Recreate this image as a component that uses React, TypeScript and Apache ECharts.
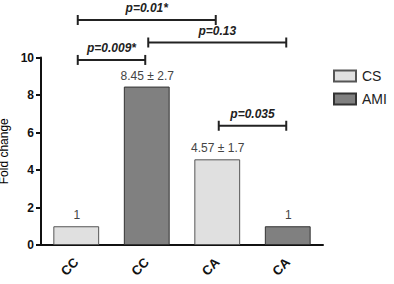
import React, { useEffect, useRef } from "react";
import * as echarts from "echarts";

// Groups along the x axis
const categories = ["CC", "CC", "CA", "CA"];
// Fold change per group (null where the series has no bar)
const csValues: (number | null)[] = [1, null, 4.57, null];
const amiValues: (number | null)[] = [null, 8.45, null, 1];
// Standard deviations shown in the bar labels
const sdValues: (number | null)[] = [null, 2.7, 1.7, null];
// Y axis ticks
const yTicks = [0, 2, 4, 6, 8, 10];

// Significance brackets: from group, to group, height (fold change units), text
const bracketFrom = [0, 0, 1, 2];
const bracketTo = [2, 1, 3, 3];
const bracketLevel = [12.0, 9.87, 10.8, 6.36];
const bracketText = ["p=0.01*", "p=0.009*", "p=0.13", "p=0.035"];

const FONT = "'Liberation Sans', Arial, Helvetica, sans-serif";

function labelFor(i: number, v: number) {
  const sd = sdValues[i];
  const txt = sd == null ? String(v) : `${v} ± ${sd}`;
  return `{v|${txt}}`;
}

function barLabel() {
  return {
    show: true,
    position: "top" as const,
    distance: 5,
    offset: [0.5, 0],
    color: "#444",
    fontSize: 12,
    fontFamily: FONT,
    formatter: (p: any) => labelFor(p.dataIndex, p.value),
    rich: { v: { color: "#444", fontSize: 12, fontFamily: FONT } },
  };
}

export default function App() {
  const ref = useRef<HTMLDivElement>(null);

  useEffect(() => {
    document.body.style.margin = "0";
    if (!ref.current) return;
    const chart = echarts.init(ref.current, undefined, { renderer: "svg" });

    const bracketData = bracketFrom.map((f, i) => [f, bracketTo[i], bracketLevel[i], i]);

    chart.setOption({
      animation: false,
      textStyle: { fontFamily: FONT },
      grid: {
        left: 41,
        right: 71,
        top: 57.5,
        bottom: 39,
        containLabel: false,
        outerBoundsMode: "none",
      },
      legend: {
        left: 328,
        top: 64,
        orient: "vertical",
        itemWidth: 22,
        itemHeight: 11,
        itemGap: 9,
        icon: "rect",
        textStyle: { fontSize: 14, color: "#222", fontFamily: FONT, padding: [0, 0, 0, 1] },
        data: ["CS", "AMI"],
      },
      xAxis: {
        type: "category",
        data: categories,
        axisLine: { lineStyle: { color: "#111", width: 2 } },
        axisTick: { alignWithLabel: true, length: 5, lineStyle: { color: "#111", width: 2 } },
        axisLabel: {
          rotate: 45,
          fontSize: 13,
          fontWeight: "bold",
          color: "#111",
          fontFamily: FONT,
          margin: 15,
        },
      },
      yAxis: {
        type: "value",
        min: yTicks[0],
        max: yTicks[yTicks.length - 1],
        interval: 2,
        name: "Fold change",
        nameLocation: "middle",
        nameGap: 26,
        nameTextStyle: { fontSize: 12, color: "#000", fontFamily: FONT },
        splitLine: { show: false },
        axisLine: { show: true, lineStyle: { color: "#111", width: 2 } },
        axisTick: { show: true, length: 5, lineStyle: { color: "#111", width: 2 } },
        axisLabel: { fontSize: 12, fontWeight: "bold", color: "#111", fontFamily: FONT, margin: 7 },
      },
      series: [
        {
          name: "CS",
          type: "bar",
          stack: "all",
          barWidth: "65%",
          data: csValues,
          itemStyle: { color: "#e0e0e0", borderColor: "#555", borderWidth: 1 },
          label: barLabel(),
        },
        {
          name: "AMI",
          type: "bar",
          stack: "all",
          barWidth: "65%",
          data: amiValues,
          itemStyle: { color: "#808080", borderColor: "#333", borderWidth: 1 },
          label: barLabel(),
        },
        {
          type: "custom",
          clip: false,
          silent: true,
          z: 10,
          encode: { x: 0, y: 2 },
          data: bracketData,
          renderItem: (_params: any, api: any) => {
            const a = api.coord([api.value(0), api.value(2)]);
            const b = api.coord([api.value(1), api.value(2)]);
            const idx = api.value(3);
            const x1 = a[0] + 1.5;
            const x2 = b[0] - 1.5;
            const y = a[1];
            const stroke = { stroke: "#222", lineWidth: 2 };
            return {
              type: "group",
              children: [
                { type: "line", shape: { x1, y1: y, x2, y2: y }, style: stroke },
                { type: "line", shape: { x1, y1: y - 5, x2: x1, y2: y + 5 }, style: stroke },
                { type: "line", shape: { x1: x2, y1: y - 5, x2, y2: y + 5 }, style: stroke },
                {
                  type: "text",
                  x: (x1 + x2) / 2,
                  y: y - 6,
                  style: {
                    text: bracketText[idx],
                    fontSize: 12,
                    fontWeight: "bold",
                    fontStyle: "italic",
                    fontFamily: FONT,
                    fill: "#222",
                    align: "center",
                    verticalAlign: "bottom",
                  },
                },
              ],
            };
          },
        },
      ],
    });

    return () => chart.dispose();
  }, []);

  return <div ref={ref} style={{ width: 394, height: 284 }} />;
}
